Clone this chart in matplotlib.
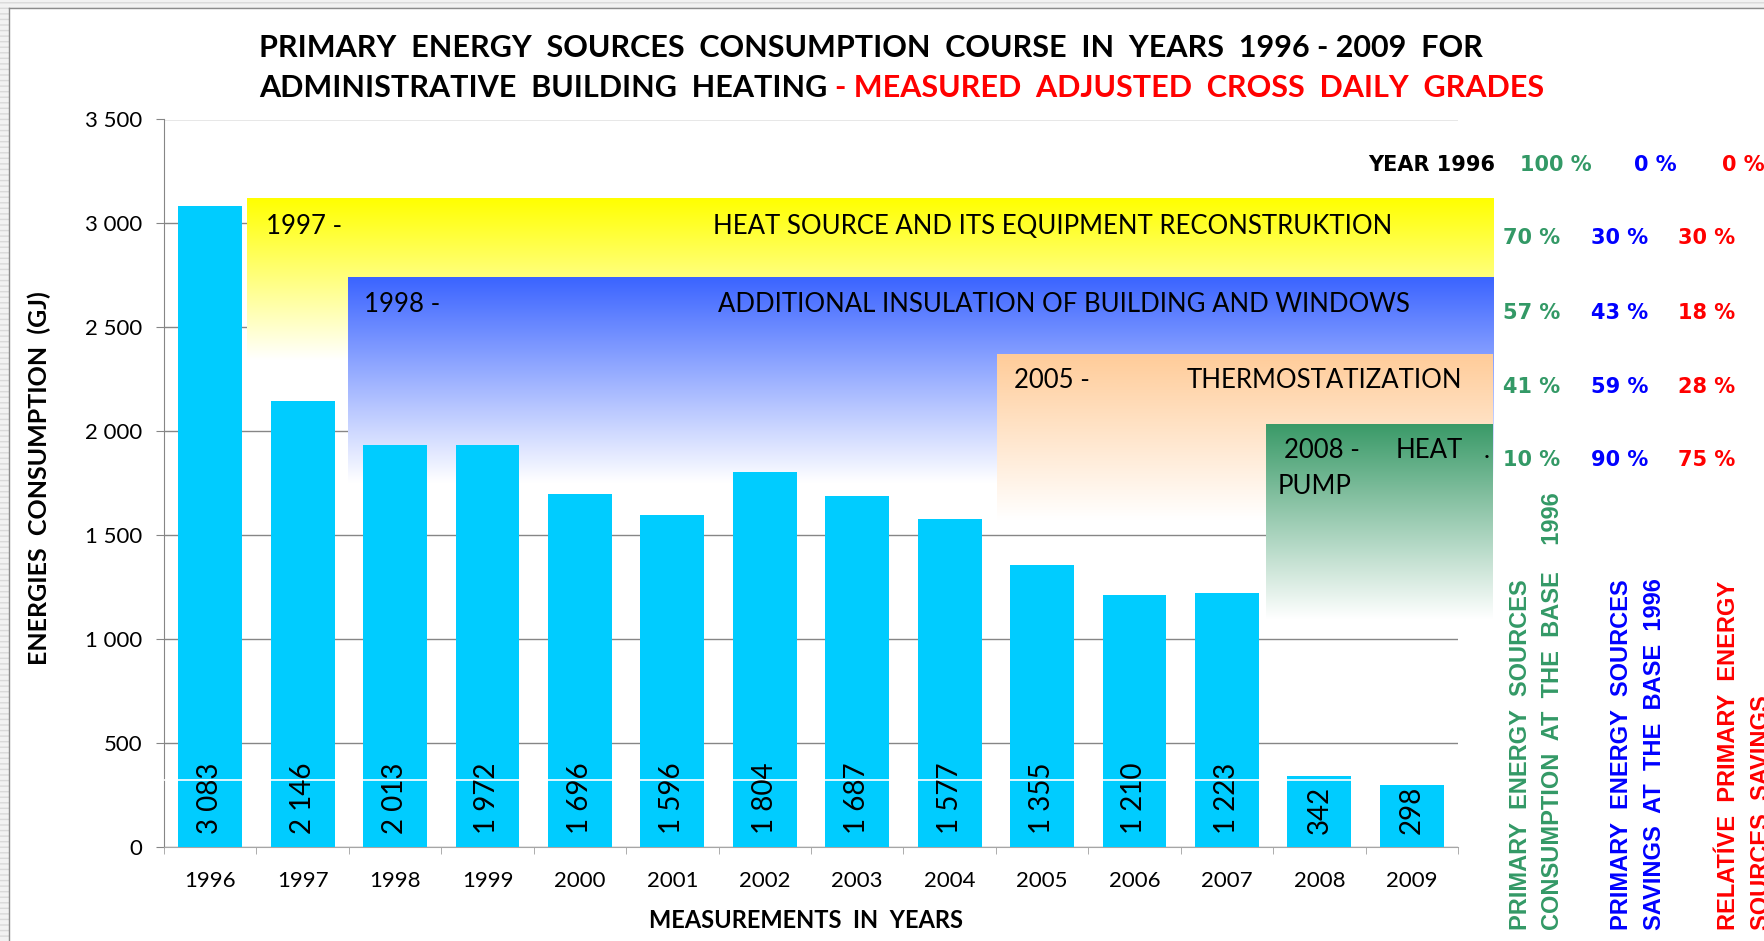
import matplotlib
matplotlib.use("Agg")
import matplotlib.pyplot as plt
import numpy as np
from matplotlib.ticker import FuncFormatter, MultipleLocator, FixedLocator
from matplotlib.patches import Rectangle
from matplotlib.lines import Line2D
from matplotlib.colors import to_rgb

plt.rcParams['font.family'] = ['Lato', 'DejaVu Sans']

# data
years = [str(y) for y in range(1996, 2010)]
bar_heights = [3083, 2146, 1935, 1935, 1696, 1596, 1804, 1687, 1577, 1355, 1210, 1223, 342, 298]
bar_labels = [3083, 2146, 2013, 1972, 1696, 1596, 1804, 1687, 1577, 1355, 1210, 1223, 342, 298]

consumption_pct = [100, 70, 57, 41, 10]
savings_pct = [0, 30, 43, 59, 90]
relative_pct = [0, 30, 18, 28, 75]

W, H = 1765, 941
GREEN, BLUE, RED = '#339966', '#0000FF', '#FF0000'


def fx(x):
    return x / W


def fy(y):
    return 1 - y / H


def thousands(v, pos=None):
    return f"{int(v):,}".replace(",", " ")


fig = plt.figure(figsize=(W / 100, H / 100), dpi=100)

# excel sheet edge
fig.add_artist(Rectangle((0, 0), fx(9), 1, transform=fig.transFigure, facecolor='#F2F2F2',
                         edgecolor='#D9D9D9', hatch='---', lw=0))
fig.add_artist(Rectangle((0, fy(8)), 1, 8 / H, transform=fig.transFigure, facecolor='#F2F2F2',
                         edgecolor='#D9D9D9', hatch='---', lw=0))
fig.add_artist(Line2D([fx(9), fx(9)], [0, fy(8)], transform=fig.transFigure, color='#8C8C8C', lw=1))
fig.add_artist(Line2D([fx(9), 1], [fy(8), fy(8)], transform=fig.transFigure, color='#8C8C8C', lw=1))

ax = fig.add_axes([fx(164), fy(847), (1458 - 164) / W, (847 - 119.5) / H])

x = np.arange(len(years))
ax.bar(x, bar_heights, width=0.69, color='#00CCFF', zorder=3)
ax.axhline(320, color='white', lw=1.2, zorder=4)

for i, v in enumerate(bar_labels):
    ax.annotate(thousands(v), (i, 0), xytext=(0, 9), textcoords='offset points',
                rotation=90, ha='center', va='bottom', fontsize=20, zorder=5)

# gradient boxes for the reconstruction stages (axes fraction coords)
stages = [
    ((0.064, 1.027, 0.669, 0.891), '#FFFF00'),
    ((0.142, 1.027, 0.50, 0.782), '#3B64FF'),
    ((0.644, 1.027, 0.449, 0.676), '#FFCC99'),
    ((0.852, 1.027, 0.313, 0.581), '#3A9A68'),
]
for (x0, x1, y0, y1), col in stages:
    c = np.array(to_rgb(col))
    t = np.linspace(0, 1, 256)[:, None]
    grad = c * (1 - t) + np.ones(3) * t
    img = grad.reshape(256, 1, 3)
    ax.imshow(img, extent=[x0, x1, y0, y1], transform=ax.transAxes, aspect='auto',
              clip_on=False, zorder=1.5, interpolation='bilinear')

ax.set_xlim(-0.5, len(years) - 0.5)
ax.set_ylim(0, 3500)
ax.yaxis.set_major_locator(MultipleLocator(500))
ax.yaxis.set_major_formatter(FuncFormatter(thousands))
ax.grid(axis='y', color='#868686', lw=1, zorder=0.5)
ax.set_axisbelow(True)

ax.set_xticks(x)
ax.set_xticklabels(years)
ax.xaxis.set_minor_locator(FixedLocator(np.arange(-0.5, len(years), 1)))
ax.tick_params(axis='x', which='major', length=0, pad=17, labelsize=16)
ax.tick_params(axis='x', which='minor', length=5, color='#A0A0A0', direction='out')
ax.tick_params(axis='y', length=5.8, color='#868686', pad=10, labelsize=16)

for s in ['top', 'right']:
    ax.spines[s].set_visible(False)
ax.spines['left'].set_color('#868686')
ax.spines['bottom'].set_color('#A6A6A6')

fig.text(fx(39), fy(478), 'ENERGIES  CONSUMPTION  (GJ)', rotation=90, ha='center', va='center',
         fontsize=18, weight='bold')
fig.text(fx(806), fy(921), 'MEASUREMENTS  IN  YEARS', ha='center', va='center',
         fontsize=17, weight='bold')

# title
title_fs = 22
fig.text(fx(259), fy(48), 'PRIMARY  ENERGY  SOURCES  CONSUMPTION  COURSE  IN  YEARS  1996 - 2009  FOR',
         ha='left', va='center', fontsize=title_fs, weight='bold')
t2 = fig.text(fx(259), fy(88), 'ADMINISTRATIVE  BUILDING  HEATING',
              ha='left', va='center', fontsize=title_fs, weight='bold')
renderer = fig.canvas.get_renderer()
bb = t2.get_window_extent(renderer)
fig.text(fx(bb.x1 + 8), fy(88), '- MEASURED  ADJUSTED  CROSS  DAILY  GRADES',
         ha='left', va='center', fontsize=title_fs, weight='bold', color=RED)

# stage captions
box_fs = 18.5
for s, px, py in [('1997 -', 266, 226), ('HEAT SOURCE AND ITS EQUIPMENT RECONSTRUKTION', 713, 226),
                  ('1998 -', 364, 305), ('ADDITIONAL INSULATION OF BUILDING AND WINDOWS', 718, 305),
                  ('2005 -', 1014, 381), ('THERMOSTATIZATION', 1187, 381),
                  ('2008 -', 1284, 451), ('HEAT', 1396, 451), ('.', 1484, 451),
                  ('PUMP', 1278, 487)]:
    fig.text(fx(px), fy(py), s, ha='left', va='center', fontsize=box_fs)

# right-hand table
pct_font = dict(family=['DejaVu Sans'], weight='bold', fontsize=15, va='center')
fig.text(fx(1495), fy(165), 'YEAR 1996', ha='right', color='black', **pct_font)
row_y = [165, 238, 313, 387, 460]
for k, yy in enumerate(row_y):
    if k == 0:
        xs = (1520, 1634, 1722)
    else:
        xs = (1503, 1591, 1678)
    fig.text(fx(xs[0]), fy(yy), f'{consumption_pct[k]} %', ha='left', color=GREEN, **pct_font)
    fig.text(fx(xs[1]), fy(yy), f'{savings_pct[k]} %', ha='left', color=BLUE, **pct_font)
    fig.text(fx(xs[2]), fy(yy), f'{relative_pct[k]} %', ha='left', color=RED, **pct_font)

vert_font = dict(family=['Liberation Sans', 'DejaVu Sans'], weight='bold', fontsize=17,
                 rotation=90, ha='center', va='bottom')
for s, px, col in [('PRIMARY  ENERGY  SOURCES', 1521, GREEN),
                   ('CONSUMPTION  AT  THE  BASE    1996', 1553, GREEN),
                   ('PRIMARY  ENERGY  SOURCES', 1622, BLUE),
                   ('SAVINGS  AT  THE  BASE  1996', 1655, BLUE),
                   ('RELATÍVE  PRIMARY  ENERGY', 1729, RED),
                   ('SOURCES  SAVINGS', 1762, RED)]:
    fig.text(fx(px), fy(930), s, color=col, **vert_font)

fig.savefig('out.png', dpi=100)
